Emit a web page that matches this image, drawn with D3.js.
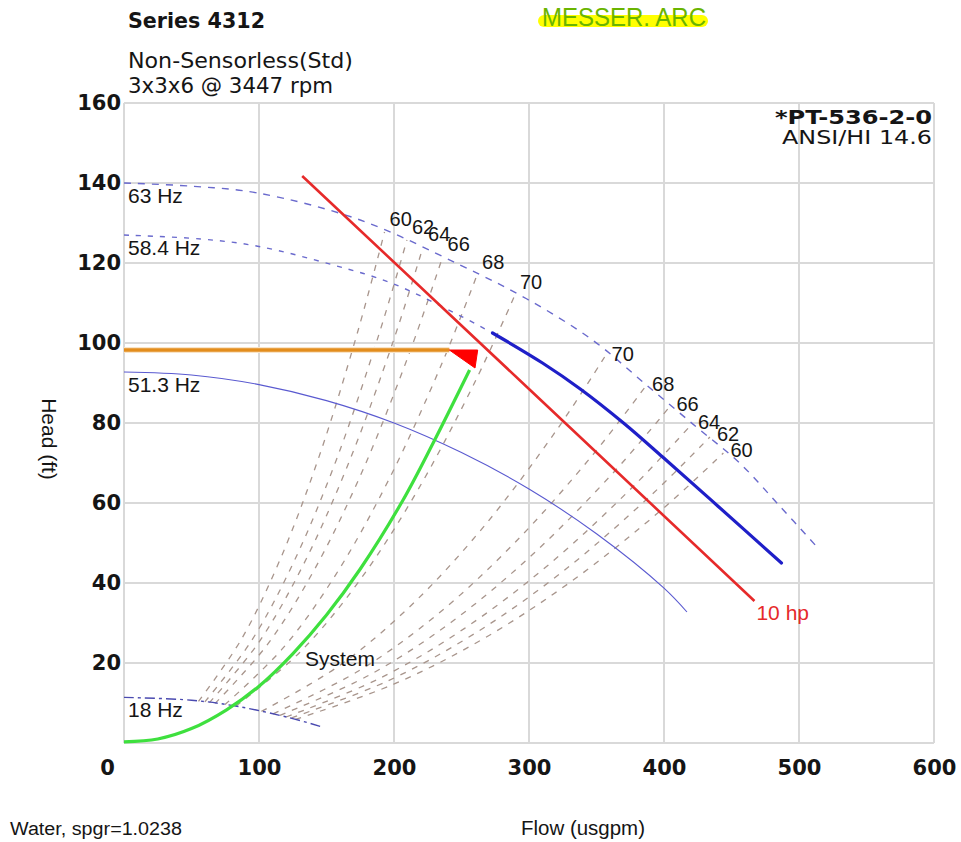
<!DOCTYPE html>
<html><head><meta charset="utf-8">
<script src="https://cdn.jsdelivr.net/npm/d3@7"></script>
<style>body{margin:0;background:#fff}svg{display:block}</style>
</head><body>
<script>
// ---- data ----
const xTicks = [0, 100, 200, 300, 400, 500, 600];
const yTicks = [20, 40, 60, 80, 100, 120, 140, 160];
const gridY = [0, 20, 40, 60, 80, 100, 120, 140, 160];

const hz63 = [[0,140],[50,139.2],[99,137.5],[175,130.75],[249,119.5],[298.5,111],[347,100.75],[387,89.5],[424,79],[456,70],[485,59.5],[512,49.5]];
const hz584 = [[0,127],[57,126],[99,124.2],[155,119.5],[198,115],[249,106.8],[273,102.5]];
const hz584Op = [[273,102.5],[310,95],[338,88.5],[370,80],[399,71.5],[440,59.2],[487,45]];
const hz513 = [[0,92.75],[50,92],[100,89.6],[150,85.6],[200,80],[250,72.6],[300,63.5],[350,52.3],[400,38.7],[417,32.75]];
const hz18 = [[0,11.4],[50,10.7],[85,9.1],[121,6.45],[146,4.1]];
const hzLabels = ["63 Hz", "58.4 Hz", "51.3 Hz", "18 Hz"];

const powerLine = [[132,141.75],[300,88.5],[467,35.5]];
const powerLabel = "10 hp";
const systemCurve = [[0,0.3],[25,1],[50,3.6],[76,8.3],[100,14.2],[125,22.3],[150,32],[175,43.5],[206.7,60.75],[229,75],[256,93.25]];
const dutyHead = [[0,98.25],[241,98.25]];
const dutyArrow = [[241,98.25],[262,98.25],[260,93.75]];

const effLabels = [60, 62, 64, 66, 68, 70];
const effLeft = [
  [[55.2,10.4],[86.9,25.9],[115.8,46],[144.8,71.9],[173.7,103.5],[193,127.75]],
  [[59.9,10.3],[94.3,25.5],[125.8,45.3],[157.2,70.7],[188.6,101.9],[209.6,125.75]],
  [[63.3,10.1],[99.7,25.1],[132.9,44.6],[166.1,69.75],[199.4,100.4],[221.5,124]],
  [[67.5,9.9],[106.2,24.6],[141.6,43.7],[177,68.3],[212.4,98.4],[236,121.5]],
  [[74.8,9.6],[117.7,23.7],[156.9,42.1],[196.1,65.8],[235.4,94.8],[261.5,117]],
  [[82.8,9.2],[130.3,22.7],[173.8,40.3],[217.2,63],[260.6,90.7],[289.6,112]]
];
const effRight = [
  [[127,5.9],[199.8,14.7],[266.4,26.1],[333,40.8],[399.6,58.7],[444,72.5]],
  [[124.1,6.3],[195.3,15.5],[260.4,27.5],[325.5,43],[390.6,62],[434,76.5]],
  [[120.1,6.5],[189,16.1],[252,28.6],[315,44.7],[378,64.4],[420,79.5]],
  [[115.5,6.9],[181.8,17],[242.4,30.2],[303,47.25],[363.6,68],[404,84]],
  [[110.4,7.3],[173.7,18],[231.6,32],[289.5,50.1],[347.4,72.1],[386,89]],
  [[101.8,7.9],[160.2,19.5],[213.6,34.7],[267,54.3],[320.4,78.2],[356,96.5]]
];

// ---- drawing ----
const W = 961, H = 842;
const svg = d3.select("body").append("svg").attr("width", W).attr("height", H);
const x = d3.scaleLinear().domain([0, 600]).range([124, 934]);
const y = d3.scaleLinear().domain([0, 160]).range([743, 103]);
const line = d3.line().x(d => x(d[0])).y(d => y(d[1])).curve(d3.curveCatmullRom.alpha(0.5));
const straight = d3.line().x(d => x(d[0])).y(d => y(d[1]));

// grid
const grid = svg.append("g");
grid.selectAll("line.v").data(xTicks).join("line")
  .attr("x1", d => x(d)).attr("x2", d => x(d)).attr("y1", y(0)).attr("y2", y(160))
  .attr("stroke", "#d9d9d9").attr("stroke-width", 2);
grid.selectAll("line.h").data(gridY).join("line")
  .attr("y1", d => y(d)).attr("y2", d => y(d)).attr("x1", x(0)).attr("x2", x(600))
  .attr("stroke", "#d9d9d9").attr("stroke-width", 2);

// axes labels via d3 axes
const gy = svg.append("g").attr("transform", `translate(${x(0) - 1},0)`)
  .call(d3.axisLeft(y).tickValues(yTicks).tickSize(0).tickPadding(2).tickFormat(d3.format("d")));
gy.select(".domain").remove();
gy.selectAll("text").attr("font-family", "DejaVu Sans").attr("font-weight", "bold")
  .attr("font-size", 21).attr("fill", "#151515");

const gx = svg.append("g").attr("transform", `translate(0,${y(0)})`)
  .call(d3.axisBottom(x).tickValues(xTicks).tickSize(0).tickPadding(17).tickFormat(d3.format("d")));
gx.select(".domain").remove();
gx.selectAll("text").attr("font-family", "DejaVu Sans").attr("font-weight", "bold")
  .attr("font-size", 21).attr("fill", "#151515")
  .attr("x", d => d === 0 ? -17 : 0);

// efficiency iso-lines
const effG = svg.append("g");
[...effLeft, ...effRight].forEach(pts => {
  effG.append("path").attr("d", line(pts)).attr("fill", "none")
    .attr("stroke", "#a8958c").attr("stroke-width", 1.3).attr("stroke-dasharray", "6,7");
});

// speed curves
svg.append("path").attr("d", line(hz63)).attr("fill", "none")
  .attr("stroke", "#6a6acd").attr("stroke-width", 1.4).attr("stroke-dasharray", "7,7");
svg.append("path").attr("d", line(hz584)).attr("fill", "none")
  .attr("stroke", "#6a6acd").attr("stroke-width", 1.4).attr("stroke-dasharray", "5,7");
svg.append("path").attr("d", line(hz513)).attr("fill", "none")
  .attr("stroke", "#5a5ad0").attr("stroke-width", 1.1);
svg.append("path").attr("d", line(hz18)).attr("fill", "none")
  .attr("stroke", "#4a4ab0").attr("stroke-width", 1.4).attr("stroke-dasharray", "10,4,3,4");

// duty head line
svg.append("path").attr("d", straight(dutyHead)).attr("fill", "none")
  .attr("stroke", "#f8e4c8").attr("stroke-width", 6);
svg.append("path").attr("d", straight(dutyHead)).attr("fill", "none")
  .attr("stroke", "#e38d1c").attr("stroke-width", 3.5);

// operating section
svg.append("path").attr("d", line(hz584Op)).attr("fill", "none")
  .attr("stroke", "#1f1fc8").attr("stroke-width", 3.2).attr("stroke-linecap", "round");

// power line
svg.append("path").attr("d", straight(powerLine)).attr("fill", "none")
  .attr("stroke", "#e62a2a").attr("stroke-width", 2.6);

// system curve
svg.append("path").attr("d", line(systemCurve)).attr("fill", "none")
  .attr("stroke", "#3ee03e").attr("stroke-width", 3.2);

// arrow
svg.append("path").attr("d", straight(dutyArrow) + "Z").attr("fill", "#ff0000").attr("stroke", "#ff0000").attr("stroke-width", 1);

// text
const T = (t, px, py, opts = {}) => {
  const e = svg.append("text").attr("x", px).attr("y", py).text(t)
    .attr("font-family", opts.family || "Liberation Sans")
    .attr("font-size", opts.size || 21)
    .attr("font-weight", opts.weight || "normal")
    .attr("fill", opts.fill || "#151515")
    .attr("text-anchor", opts.anchor || "start");
  if (opts.len) e.attr("textLength", opts.len).attr("lengthAdjust", "spacingAndGlyphs");
  return e;
};

// speed labels
[hz63, hz584, hz513, hz18].forEach((c, i) => T(hzLabels[i], x(0) + 4, y(c[0][1]) + 20));

// efficiency labels
effLeft.forEach((pts, i) => {
  const p = pts[pts.length - 1];
  T(String(effLabels[i]), x(p[0]) + 5, y(p[1]) - 6, {size: 20});
});
effRight.forEach((pts, i) => {
  const p = pts[pts.length - 1];
  T(String(effLabels[i]), x(p[0]) + 7, y(p[1]) + 4, {size: 20});
});

T("System", 305, 666);
T(powerLabel, x(powerLine[2][0]) + 2, y(powerLine[2][1]) + 19, {fill: "#e62a2a"});

// titles
T("Series 4312", 128, 28, {family: "DejaVu Sans", weight: "bold", size: 21, len: 137});
T("Non-Sensorless(Std)", 128, 68, {family: "DejaVu Sans", size: 21, len: 225});
T("3x3x6 @ 3447 rpm", 128, 93, {family: "DejaVu Sans", size: 21, len: 205});

svg.append("rect").attr("x", 538).attr("y", 15).attr("width", 170).attr("height", 12)
  .attr("rx", 6).attr("fill", "#ffff00");
T("MESSER. ARC", 542, 26, {size: 25, fill: "#6ab400", len: 164});

T("*PT-536-2-0", 932, 124, {family: "DejaVu Sans", weight: "bold", size: 19, anchor: "end", len: 157});
T("ANSI/HI 14.6", 932, 144, {family: "DejaVu Sans", size: 19, anchor: "end", len: 150});

T("Flow (usgpm)", 521, 835, {size: 20, len: 124});
T("Water, spgr=1.0238", 10, 835, {size: 18, len: 172});
svg.append("text").attr("transform", "translate(42,439) rotate(90)")
  .attr("text-anchor", "middle").attr("font-family", "Liberation Sans").attr("font-size", 21)
  .attr("fill", "#151515").text("Head (ft)");
</script>
</body></html>
